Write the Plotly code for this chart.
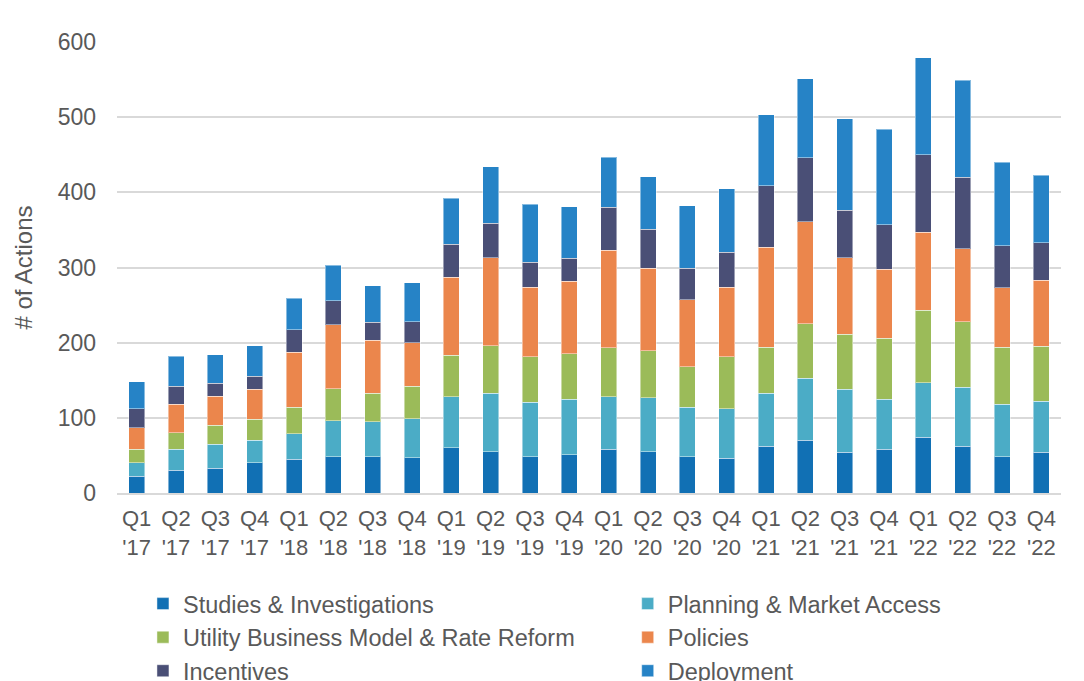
import plotly.graph_objects as go

quarters = ["Q1<br>'17", "Q2<br>'17", "Q3<br>'17", "Q4<br>'17",
            "Q1<br>'18", "Q2<br>'18", "Q3<br>'18", "Q4<br>'18",
            "Q1<br>'19", "Q2<br>'19", "Q3<br>'19", "Q4<br>'19",
            "Q1<br>'20", "Q2<br>'20", "Q3<br>'20", "Q4<br>'20",
            "Q1<br>'21", "Q2<br>'21", "Q3<br>'21", "Q4<br>'21",
            "Q1<br>'22", "Q2<br>'22", "Q3<br>'22", "Q4<br>'22"]

studies = [22, 30, 33, 40, 45, 48, 48, 47, 60, 55, 48, 51, 58, 55, 48, 46, 62, 70, 54, 58, 74, 62, 48, 54]
planning = [18, 28, 32, 30, 34, 48, 47, 52, 68, 78, 73, 74, 70, 72, 66, 66, 71, 83, 84, 67, 73, 79, 70, 68]
utility = [18, 22, 25, 28, 35, 43, 38, 43, 55, 63, 60, 60, 65, 62, 54, 69, 61, 72, 73, 81, 96, 87, 76, 73]
policies = [29, 38, 39, 40, 73, 85, 70, 58, 104, 117, 93, 97, 130, 110, 89, 93, 133, 136, 102, 92, 104, 97, 79, 88]
incentives = [25, 24, 17, 17, 30, 32, 24, 28, 44, 46, 33, 30, 57, 52, 42, 46, 82, 85, 63, 59, 103, 95, 56, 50]
deployment = [36, 40, 38, 41, 42, 47, 49, 52, 61, 75, 77, 69, 67, 70, 83, 85, 94, 105, 122, 127, 129, 129, 111, 90]

series_names = ["Studies & Investigations", "Planning & Market Access",
                "Utility Business Model & Rate Reform", "Policies",
                "Incentives", "Deployment"]
series_values = [studies, planning, utility, policies, incentives, deployment]
series_colors = ["#1170b4", "#4bacc6", "#9bbb59", "#eb864c", "#4a4f76", "#2683c6"]
legend_ids = ["legend", "legend2", "legend", "legend2", "legend", "legend2"]

FONT = "Liberation Sans, Arial, sans-serif"
GREY = "#595959"

fig = go.Figure()
for name, vals, col, lg in zip(series_names, series_values, series_colors, legend_ids):
    fig.add_trace(go.Bar(
        x=quarters, y=vals, name=name, legend=lg,
        marker=dict(color=col, line=dict(color="rgba(255,255,255,0.45)", width=1)),
    ))

fig.update_layout(
    width=1076, height=673,
    barmode="stack", bargap=0.593,
    paper_bgcolor="white", plot_bgcolor="white",
    margin=dict(l=109, r=23, t=34, b=188, autoexpand=False),
    font=dict(family=FONT, color=GREY, size=23),
    xaxis=dict(
        showgrid=False, showline=True, linecolor="#d9d9d9", linewidth=2,
        tickfont=dict(size=22, color=GREY), ticks="", ticklabelstandoff=5,
    ),
    yaxis=dict(
        range=[0, 600], dtick=100, showgrid=True, gridcolor="#d9d9d9", gridwidth=2,
        zeroline=False, showline=False, ticks="", ticklabelstandoff=20,
        tickfont=dict(size=23, color=GREY),
        title=dict(text="# of Actions", font=dict(size=24, color=GREY), standoff=18),
    ),
    legend=dict(
        orientation="v", x=0.0275, xanchor="left", y=-0.197, yanchor="top",
        font=dict(size=23.5, color=GREY), bgcolor="rgba(0,0,0,0)", traceorder="normal",
    ),
    legend2=dict(
        orientation="v", x=0.541, xanchor="left", y=-0.197, yanchor="top",
        font=dict(size=23.5, color=GREY), bgcolor="rgba(0,0,0,0)", traceorder="normal",
    ),
)

fig.write_html("out.html")
